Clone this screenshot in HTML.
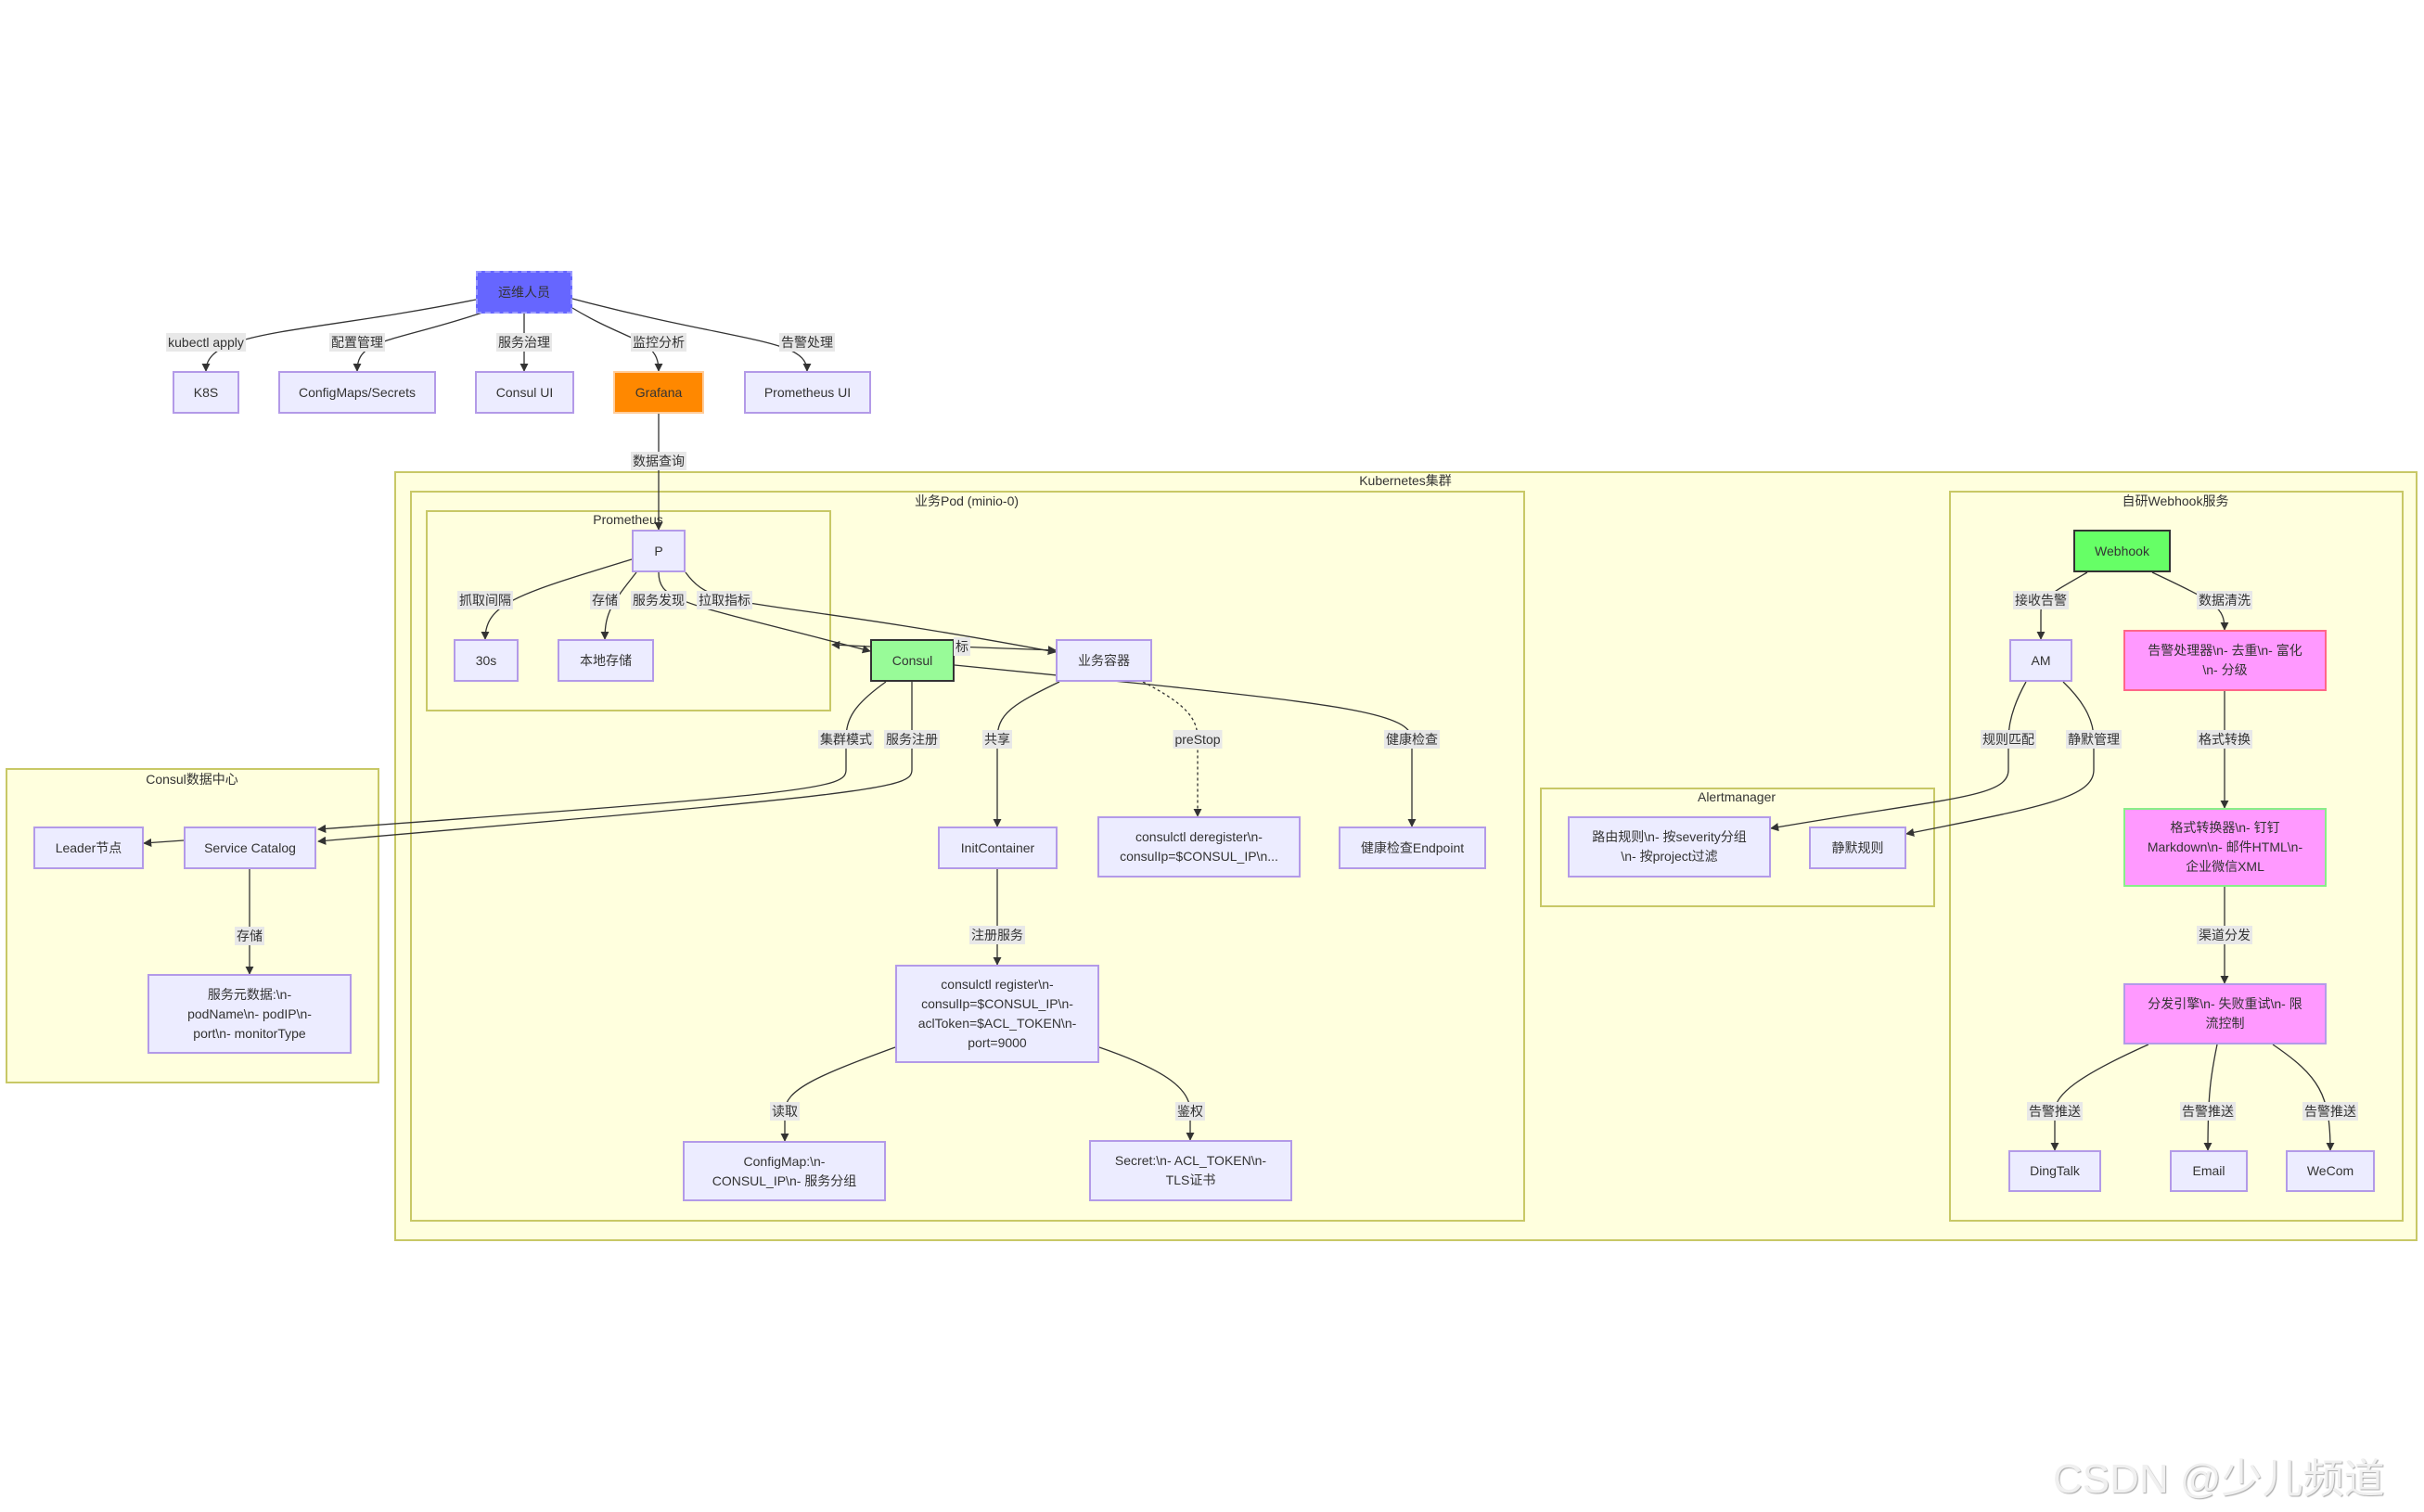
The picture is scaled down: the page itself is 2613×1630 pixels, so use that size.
<!DOCTYPE html>
<html><head><meta charset="utf-8">
<style>
html,body{margin:0;padding:0;background:#fff;}
#c{position:relative;width:2613px;height:1630px;overflow:hidden;font-family:"Liberation Sans","Noto Sans CJK SC",sans-serif;color:#333;}
.cl{position:absolute;background:#ffffde;border:2px solid #c8c866;box-sizing:border-box;}
.ct{position:absolute;font-size:14px;color:#333;white-space:nowrap;transform:translateX(-50%);}
.n{position:absolute;background:#ececff;border:2px solid #b39ae8;box-sizing:border-box;display:flex;align-items:center;justify-content:center;text-align:center;font-size:14px;line-height:21px;padding:0 6px;}
.l{position:absolute;background:#e8e8e8;font-size:14px;line-height:20px;padding:0 2px;white-space:nowrap;transform:translate(-50%,-50%);}
svg{position:absolute;left:0;top:0;}
.wm{position:absolute;left:2213px;top:1558px;font-size:44px;color:#f0f0f0;white-space:nowrap;text-shadow:1px 1px 1px #aaa,-1px -1px 0 #fff;font-family:"Liberation Sans","Noto Sans CJK SC",sans-serif;}
</style></head><body><div id="c">

<div class="cl" style="left:425px;top:508px;width:2181px;height:830px;"></div>
<div class="ct" style="left:1515px;top:508px;">Kubernetes集群</div>
<div class="cl" style="left:442px;top:529px;width:1202px;height:788px;"></div>
<div class="ct" style="left:1042px;top:530px;">业务Pod (minio-0)</div>
<div class="cl" style="left:459px;top:550px;width:437px;height:217px;"></div>
<div class="ct" style="left:677px;top:552px;">Prometheus</div>
<div class="cl" style="left:2101px;top:529px;width:490px;height:788px;"></div>
<div class="ct" style="left:2345px;top:530px;">自研Webhook服务</div>
<div class="cl" style="left:1660px;top:849px;width:426px;height:129px;"></div>
<div class="ct" style="left:1872px;top:851px;">Alertmanager</div>
<div class="cl" style="left:6px;top:828px;width:403px;height:340px;"></div>
<div class="ct" style="left:207px;top:830px;">Consul数据中心</div>

<svg width="2613" height="1630">
<defs><marker id="a" viewBox="0 0 10 10" refX="9" refY="5" markerWidth="7" markerHeight="7" orient="auto"><path d="M0,0L10,5L0,10z" fill="#333"/></marker></defs>
<g fill="none" stroke="#333" stroke-width="1.3" marker-end="url(#a)">
<path d="M513,323 C330,360 222,355 222,400"/>
<path d="M520,337 C420,370 385,365 385,400"/>
<path d="M565,337 L565,400"/>
<path d="M617,332 C680,370 710,365 710,400"/>
<path d="M617,322 C800,370 870,365 870,400"/>
<path d="M710,446 L710,571"/>
<path d="M681,603 C560,640 523,650 523,689"/>
<path d="M686,617 C660,650 652,660 652,689"/>
<path d="M710,617 C710,650 740,650 938,702"/>
<path d="M739,617 C770,660 800,640 1138,703"/>
<path d="M938,697 L897,695"/>
<path d="M1029,697 L1138,701"/>
<path d="M1029,717 L1230,737 C1450,760 1522,770 1522,797 L1522,891"/>
<path d="M1142,735 C1090,760 1075,770 1075,797 L1075,891"/>
<path d="M1232,735 C1280,760 1291,775 1291,797 L1291,880" stroke-dasharray="3,3"/>
<path d="M955,735 C920,760 912,775 912,797 L912,830 C912,850 880,855 343,894"/>
<path d="M983,735 L983,830 C983,850 950,855 343,907"/>
<path d="M198,906 L155,909"/>
<path d="M269,936 L269,1050"/>
<path d="M1075,937 L1075,1040"/>
<path d="M965,1129 C880,1160 846,1175 846,1198 L846,1230"/>
<path d="M1185,1129 C1260,1155 1283,1175 1283,1198 L1283,1229"/>
<path d="M2250,617 C2210,640 2200,645 2200,660 L2200,689"/>
<path d="M2320,617 C2390,650 2398,655 2398,679"/>
<path d="M2184,735 C2170,760 2165,780 2165,797 L2165,830 C2165,860 2100,860 1909,893"/>
<path d="M2224,735 C2250,760 2257,780 2257,797 L2257,830 C2257,860 2200,870 2055,899"/>
<path d="M2398,745 L2398,871"/>
<path d="M2398,956 L2398,1060"/>
<path d="M2316,1126 C2240,1160 2215,1180 2215,1198 L2215,1240"/>
<path d="M2390,1126 C2383,1160 2380,1180 2380,1240"/>
<path d="M2450,1126 C2500,1160 2512,1180 2512,1240"/>
</g></svg>

<div class="n" style="left:513px;top:292px;width:104px;height:46px;background:#6666ff;border:2px dashed #9999ff;">运维人员</div>
<div class="n" style="left:186px;top:400px;width:72px;height:46px;">K8S</div>
<div class="n" style="left:300px;top:400px;width:170px;height:46px;">ConfigMaps/Secrets</div>
<div class="n" style="left:512px;top:400px;width:107px;height:46px;">Consul UI</div>
<div class="n" style="left:661px;top:400px;width:98px;height:46px;background:#ff8800;border-color:#ffcc99;">Grafana</div>
<div class="n" style="left:802px;top:400px;width:137px;height:46px;">Prometheus UI</div>

<div class="n" style="left:681px;top:571px;width:58px;height:46px;">P</div>
<div class="n" style="left:489px;top:689px;width:70px;height:46px;">30s</div>
<div class="n" style="left:601px;top:689px;width:104px;height:46px;">本地存储</div>
<div class="n" style="left:938px;top:689px;width:91px;height:46px;background:#98fb98;border-color:#333;">Consul</div>
<div class="n" style="left:1138px;top:689px;width:104px;height:46px;">业务容器</div>
<div class="n" style="left:1011px;top:891px;width:129px;height:46px;">InitContainer</div>
<div class="n" style="left:1183px;top:880px;width:219px;height:66px;">consulctl deregister\n-<br>consulIp=$CONSUL_IP\n...</div>
<div class="n" style="left:1443px;top:891px;width:159px;height:46px;">健康检查Endpoint</div>
<div class="n" style="left:965px;top:1040px;width:220px;height:106px;">consulctl register\n-<br>consulIp=$CONSUL_IP\n-<br>aclToken=$ACL_TOKEN\n-<br>port=9000</div>
<div class="n" style="left:736px;top:1230px;width:219px;height:65px;">ConfigMap:\n-<br>CONSUL_IP\n- 服务分组</div>
<div class="n" style="left:1174px;top:1229px;width:219px;height:66px;">Secret:\n- ACL_TOKEN\n-<br>TLS证书</div>

<div class="n" style="left:36px;top:891px;width:119px;height:46px;">Leader节点</div>
<div class="n" style="left:198px;top:891px;width:143px;height:46px;">Service Catalog</div>
<div class="n" style="left:159px;top:1050px;width:220px;height:86px;">服务元数据:\n-<br>podName\n- podIP\n-<br>port\n- monitorType</div>

<div class="n" style="left:2235px;top:571px;width:105px;height:46px;background:#66ff66;border-color:#333;">Webhook</div>
<div class="n" style="left:2166px;top:689px;width:68px;height:46px;">AM</div>
<div class="n" style="left:2289px;top:679px;width:219px;height:66px;background:#ff99ff;border-color:#ff6688;">告警处理器\n- 去重\n- 富化<br>\n- 分级</div>
<div class="n" style="left:1690px;top:880px;width:219px;height:66px;">路由规则\n- 按severity分组<br>\n- 按project过滤</div>
<div class="n" style="left:1950px;top:891px;width:105px;height:46px;">静默规则</div>
<div class="n" style="left:2289px;top:871px;width:219px;height:85px;background:#ff99ff;border-color:#88ee88;">格式转换器\n- 钉钉<br>Markdown\n- 邮件HTML\n-<br>企业微信XML</div>
<div class="n" style="left:2289px;top:1060px;width:219px;height:66px;background:#ff99ff;border-color:#b39ae8;">分发引擎\n- 失败重试\n- 限<br>流控制</div>
<div class="n" style="left:2165px;top:1240px;width:100px;height:45px;">DingTalk</div>
<div class="n" style="left:2339px;top:1240px;width:84px;height:45px;">Email</div>
<div class="n" style="left:2464px;top:1240px;width:96px;height:45px;">WeCom</div>

<div class="l" style="left:222px;top:369px;">kubectl apply</div>
<div class="l" style="left:385px;top:369px;">配置管理</div>
<div class="l" style="left:565px;top:369px;">服务治理</div>
<div class="l" style="left:710px;top:369px;">监控分析</div>
<div class="l" style="left:870px;top:369px;">告警处理</div>
<div class="l" style="left:710px;top:497px;">数据查询</div>
<div class="l" style="left:523px;top:647px;">抓取间隔</div>
<div class="l" style="left:652px;top:647px;">存储</div>
<div class="l" style="left:710px;top:647px;">服务发现</div>
<div class="l" style="left:781px;top:647px;">拉取指标</div>
<div class="l" style="left:1037px;top:697px;">标</div>
<div class="l" style="left:912px;top:797px;">集群模式</div>
<div class="l" style="left:983px;top:797px;">服务注册</div>
<div class="l" style="left:1075px;top:797px;">共享</div>
<div class="l" style="left:1291px;top:797px;">preStop</div>
<div class="l" style="left:1522px;top:797px;">健康检查</div>
<div class="l" style="left:269px;top:1009px;">存储</div>
<div class="l" style="left:1075px;top:1008px;">注册服务</div>
<div class="l" style="left:846px;top:1198px;">读取</div>
<div class="l" style="left:1283px;top:1198px;">鉴权</div>
<div class="l" style="left:2200px;top:647px;">接收告警</div>
<div class="l" style="left:2398px;top:647px;">数据清洗</div>
<div class="l" style="left:2165px;top:797px;">规则匹配</div>
<div class="l" style="left:2257px;top:797px;">静默管理</div>
<div class="l" style="left:2398px;top:797px;">格式转换</div>
<div class="l" style="left:2398px;top:1008px;">渠道分发</div>
<div class="l" style="left:2215px;top:1198px;">告警推送</div>
<div class="l" style="left:2380px;top:1198px;">告警推送</div>
<div class="l" style="left:2512px;top:1198px;">告警推送</div>

<div class="wm">CSDN @少儿频道</div>
</div></body></html>
